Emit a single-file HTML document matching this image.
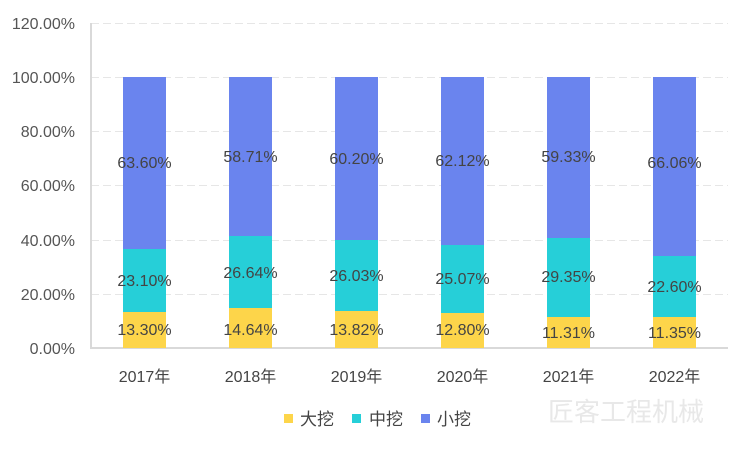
<!DOCTYPE html>
<html><head><meta charset="utf-8"><style>
html,body{margin:0;padding:0;background:#fff;}
svg{display:block;font-family:"Liberation Sans","Noto Sans CJK SC",sans-serif;}
</style></head><body>
<svg width="750" height="449" viewBox="0 0 750 449">
<g stroke="#e6e6e6" stroke-dasharray="8,4" stroke-width="1">
<line x1="91" x2="728" y1="23.5" y2="23.5"/>
<line x1="91" x2="728" y1="77.5" y2="77.5"/>
<line x1="91" x2="728" y1="131.5" y2="131.5"/>
<line x1="91" x2="728" y1="185.5" y2="185.5"/>
<line x1="91" x2="728" y1="240.5" y2="240.5"/>
<line x1="91" x2="728" y1="294.5" y2="294.5"/>
</g>
<g fill="#555" font-size="16" text-anchor="end">
<text x="75" y="29">120.00%</text>
<text x="75" y="83">100.00%</text>
<text x="75" y="137">80.00%</text>
<text x="75" y="191">60.00%</text>
<text x="75" y="246">40.00%</text>
<text x="75" y="300">20.00%</text>
<text x="75" y="354">0.00%</text>
</g>
<line x1="91" x2="91" y1="23" y2="348" stroke="#d9d9d9" stroke-width="2"/>
<line x1="90" x2="728" y1="348" y2="348" stroke="#d9d9d9" stroke-width="2"/>
<rect x="284" y="414" width="9" height="9" fill="#FDD54A"/>
<text x="300" y="425" font-size="17" fill="#444">大挖</text>
<rect x="352" y="414" width="9" height="9" fill="#26CFD8"/>
<text x="369" y="425" font-size="17" fill="#444">中挖</text>
<rect x="421" y="414" width="9" height="9" fill="#6A84EE"/>
<text x="437" y="425" font-size="17" fill="#444">小挖</text>
<text x="548" y="421" font-size="26" fill="#e8e8e8">匠客工程机械</text>
<g fill="#444" font-size="16" text-anchor="middle">
<rect x="123" y="312" width="43" height="36" fill="#FDD54A"/><rect x="123" y="249" width="43" height="63" fill="#26CFD8"/><rect x="123" y="77" width="43" height="172" fill="#6A84EE"/>
<text x="144.5" y="335">13.30%</text><text x="144.5" y="286">23.10%</text><text x="144.5" y="168">63.60%</text><text x="144.5" y="382">2017年</text>
<rect x="229" y="308" width="43" height="40" fill="#FDD54A"/><rect x="229" y="236" width="43" height="72" fill="#26CFD8"/><rect x="229" y="77" width="43" height="159" fill="#6A84EE"/>
<text x="250.5" y="335">14.64%</text><text x="250.5" y="278">26.64%</text><text x="250.5" y="162">58.71%</text><text x="250.5" y="382">2018年</text>
<rect x="335" y="311" width="43" height="37" fill="#FDD54A"/><rect x="335" y="240" width="43" height="71" fill="#26CFD8"/><rect x="335" y="77" width="43" height="163" fill="#6A84EE"/>
<text x="356.5" y="335">13.82%</text><text x="356.5" y="281">26.03%</text><text x="356.5" y="164">60.20%</text><text x="356.5" y="382">2019年</text>
<rect x="441" y="313" width="43" height="35" fill="#FDD54A"/><rect x="441" y="245" width="43" height="68" fill="#26CFD8"/><rect x="441" y="77" width="43" height="168" fill="#6A84EE"/>
<text x="462.5" y="335">12.80%</text><text x="462.5" y="284">25.07%</text><text x="462.5" y="166">62.12%</text><text x="462.5" y="382">2020年</text>
<rect x="547" y="317" width="43" height="31" fill="#FDD54A"/><rect x="547" y="238" width="43" height="79" fill="#26CFD8"/><rect x="547" y="77" width="43" height="161" fill="#6A84EE"/>
<text x="568.5" y="338">11.31%</text><text x="568.5" y="282">29.35%</text><text x="568.5" y="162">59.33%</text><text x="568.5" y="382">2021年</text>
<rect x="653" y="317" width="43" height="31" fill="#FDD54A"/><rect x="653" y="256" width="43" height="61" fill="#26CFD8"/><rect x="653" y="77" width="43" height="179" fill="#6A84EE"/>
<text x="674.5" y="338">11.35%</text><text x="674.5" y="292">22.60%</text><text x="674.5" y="168">66.06%</text><text x="674.5" y="382">2022年</text>
</g>
</svg>
</body></html>
